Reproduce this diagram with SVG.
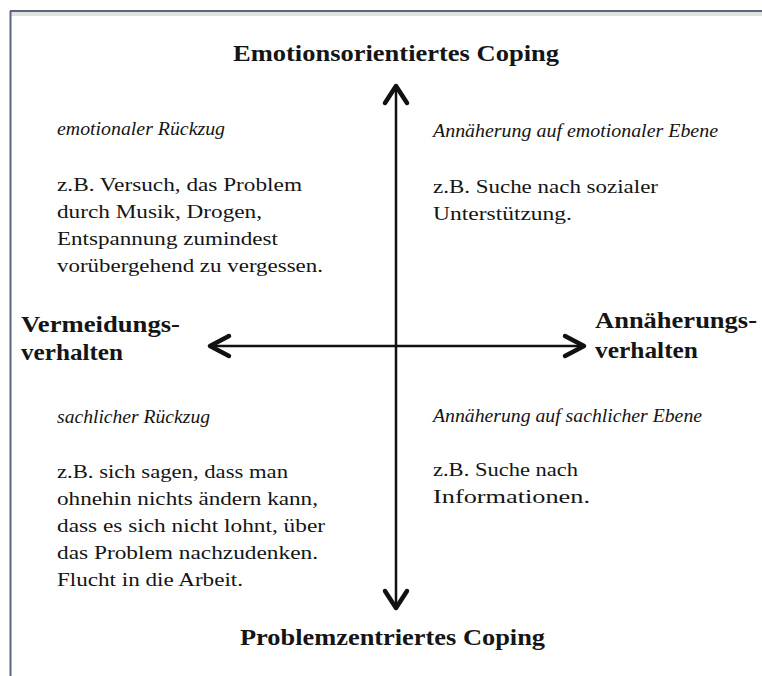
<svg xmlns="http://www.w3.org/2000/svg" width="762" height="676" viewBox="0 0 762 676">
<style>
.t{font-family:"Liberation Serif","Times New Roman",serif;fill:#151515}
.h{font-weight:bold;font-size:22.5px}
.i{font-style:italic;font-size:18.5px}
.b{font-size:19.5px}
.ax{stroke:#111;stroke-width:2.5;fill:none}
.hd{stroke:#111;stroke-width:4.5;fill:none;stroke-linecap:round;stroke-linejoin:round}
</style>
<rect width="762" height="676" fill="#fff"/>
<g id="frame">
<line x1="10" y1="14" x2="762" y2="14" stroke="#e2e2e2" stroke-width="4"/>
<line x1="10.5" y1="11" x2="10.5" y2="676" stroke="#5b667a" stroke-width="2"/>
<line x1="10" y1="11" x2="762" y2="11" stroke="#5b667a" stroke-width="2"/>
</g>
<g id="connectors">
<line class="ax" x1="396" y1="86" x2="396" y2="608"/>
<polyline class="hd" points="385,103 396,86 407,103"/>
<polyline class="hd" points="385,591 396,608 407,591"/>
<line class="ax" x1="210" y1="346" x2="584" y2="346"/>
<polyline class="hd" points="229,336 210,346 229,356"/>
<polyline class="hd" points="565,336 584,346 565,356"/>
</g>
<g id="top-label"><text class="t h" x="233" y="61" textLength="326" lengthAdjust="spacingAndGlyphs">Emotionsorientiertes Coping</text></g>
<g id="bottom-label"><text class="t h" x="240" y="645" textLength="305" lengthAdjust="spacingAndGlyphs">Problemzentriertes Coping</text></g>
<g id="left-label">
<text class="t h" x="21" y="332" textLength="159" lengthAdjust="spacingAndGlyphs">Vermeidungs-</text>
<text class="t h" x="21" y="360" textLength="102" lengthAdjust="spacingAndGlyphs">verhalten</text>
</g>
<g id="right-label">
<text class="t h" x="595" y="328" textLength="162" lengthAdjust="spacingAndGlyphs">Annäherungs-</text>
<text class="t h" x="595" y="358" textLength="103" lengthAdjust="spacingAndGlyphs">verhalten</text>
</g>
<g id="q-top-left">
<text class="t i" x="57" y="135" textLength="168" lengthAdjust="spacingAndGlyphs">emotionaler Rückzug</text>
<text class="t b" x="57" y="191" textLength="245" lengthAdjust="spacingAndGlyphs">z.B. Versuch, das Problem</text>
<text class="t b" x="57" y="218" textLength="205" lengthAdjust="spacingAndGlyphs">durch Musik, Drogen,</text>
<text class="t b" x="57" y="245" textLength="221" lengthAdjust="spacingAndGlyphs">Entspannung zumindest</text>
<text class="t b" x="57" y="272" textLength="266" lengthAdjust="spacingAndGlyphs">vorübergehend zu vergessen.</text>
</g>
<g id="q-top-right">
<text class="t i" x="433" y="137" textLength="285" lengthAdjust="spacingAndGlyphs">Annäherung auf emotionaler Ebene</text>
<text class="t b" x="433" y="193" textLength="225" lengthAdjust="spacingAndGlyphs">z.B. Suche nach sozialer</text>
<text class="t b" x="433" y="220" textLength="139" lengthAdjust="spacingAndGlyphs">Unterstützung.</text>
</g>
<g id="q-bottom-left">
<text class="t i" x="57" y="423" textLength="153" lengthAdjust="spacingAndGlyphs">sachlicher Rückzug</text>
<text class="t b" x="57" y="478" textLength="231" lengthAdjust="spacingAndGlyphs">z.B. sich sagen, dass man</text>
<text class="t b" x="57" y="505" textLength="261" lengthAdjust="spacingAndGlyphs">ohnehin nichts ändern kann,</text>
<text class="t b" x="57" y="532" textLength="268" lengthAdjust="spacingAndGlyphs">dass es sich nicht lohnt, über</text>
<text class="t b" x="57" y="559" textLength="261" lengthAdjust="spacingAndGlyphs">das Problem nachzudenken.</text>
<text class="t b" x="57" y="586" textLength="186" lengthAdjust="spacingAndGlyphs">Flucht in die Arbeit.</text>
</g>
<g id="q-bottom-right">
<text class="t i" x="433" y="422" textLength="269" lengthAdjust="spacingAndGlyphs">Annäherung auf sachlicher Ebene</text>
<text class="t b" x="433" y="476" textLength="145" lengthAdjust="spacingAndGlyphs">z.B. Suche nach</text>
<text class="t b" x="433" y="503" textLength="157" lengthAdjust="spacingAndGlyphs">Informationen.</text>
</g>
</svg>
